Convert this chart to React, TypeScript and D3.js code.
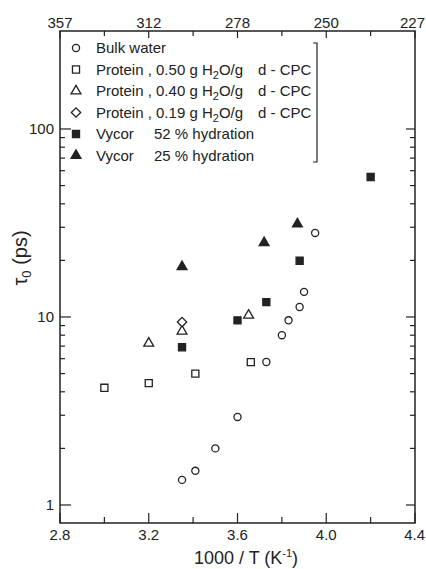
import React from "react";
import * as d3 from "d3";

// data (x = 1000/T, y = tau0 in ps)
const bulkX = [3.35, 3.41, 3.5, 3.6, 3.73, 3.8, 3.83, 3.88, 3.9, 3.95];
const bulkY = [1.36, 1.52, 2.0, 2.94, 5.76, 8.0, 9.6, 11.3, 13.6, 28];
const protein50X = [3.0, 3.2, 3.41, 3.66];
const protein50Y = [4.2, 4.45, 5.0, 5.75];
const protein40X = [3.2, 3.35, 3.65];
const protein40Y = [7.25, 8.4, 10.2];
const protein19X = [3.35];
const protein19Y = [9.4];
const vycor52X = [3.35, 3.6, 3.73, 3.88, 4.2];
const vycor52Y = [6.9, 9.6, 12.0, 19.9, 55.5];
const vycor25X = [3.35, 3.72, 3.87];
const vycor25Y = [18.5, 24.8, 31.2];

const bottomTicks = [2.8, 3.2, 3.6, 4.0, 4.4];
const bottomMinor = [3.0, 3.4, 3.8, 4.2];
const topLabels = ["357", "312", "278", "250", "227"];
const yMajor = [1, 10, 100];
const yMinor = [2, 3, 4, 5, 6, 7, 8, 9, 20, 30, 40, 50, 60, 70, 80, 90];

const W = 426;
const H = 569;
const margin = { left: 60, right: 11, top: 31, bottom: 46 };
const ink = "#222";
const font = "'Liberation Sans', Arial, sans-serif";

type Kind = "circle" | "square" | "triangle" | "diamond" | "fsquare" | "ftriangle";

const series: { kind: Kind; xs: number[]; ys: number[] }[] = [
  { kind: "circle", xs: bulkX, ys: bulkY },
  { kind: "square", xs: protein50X, ys: protein50Y },
  { kind: "triangle", xs: protein40X, ys: protein40Y },
  { kind: "diamond", xs: protein19X, ys: protein19Y },
  { kind: "fsquare", xs: vycor52X, ys: vycor52Y },
  { kind: "ftriangle", xs: vycor25X, ys: vycor25Y },
];

const symbolPath = (kind: Kind) => {
  switch (kind) {
    case "circle":
      return d3.symbol(d3.symbolCircle, 40)()!;
    case "square":
    case "fsquare":
      return d3.symbol(d3.symbolSquare, 50)()!;
    case "triangle":
    case "ftriangle":
      return d3.symbol(d3.symbolTriangle, 42)()!;
    case "diamond":
      return d3.symbol(d3.symbolSquare, 44)()!;
  }
};

const Marker = ({ kind, x, y }: { kind: Kind; x: number; y: number }) => {
  const filled = kind === "fsquare" || kind === "ftriangle";
  const rot = kind === "diamond" ? " rotate(45)" : "";
  return (
    <path
      d={symbolPath(kind)}
      transform={`translate(${x},${y})${rot}`}
      fill={filled ? ink : "white"}
      stroke={ink}
      strokeWidth={1.3}
    />
  );
};

const Sub = ({ children }: { children: string }) => (
  <tspan fontSize={11} dy={4}>
    {children}
  </tspan>
);

export default function App() {
  const x = d3.scaleLinear().domain([2.8, 4.4]).range([margin.left, W - margin.right]);
  const y = d3.scaleLog().domain([0.802, 332]).range([H - margin.bottom, margin.top]);
  const x0 = margin.left;
  const x1 = W - margin.right;
  const y0 = H - margin.bottom;
  const y1 = margin.top;

  const legendY = (i: number) => 48 + i * 21.5;
  const legendKinds: Kind[] = ["circle", "square", "triangle", "diamond", "fsquare", "ftriangle"];
  const last = bottomTicks.length - 1;

  return (
    <svg
      width={W}
      height={H}
      style={{ position: "absolute", left: 0, top: 0, background: "white" }}
      fontFamily={font}
    >
      {/* frame */}
      <rect x={x0} y={y1} width={x1 - x0} height={y0 - y1} fill="none" stroke={ink} strokeWidth={1.5} />

      {/* bottom / top ticks */}
      {bottomTicks.map((t, i) => (
        <g key={"bt" + i}>
          <line x1={x(t)} x2={x(t)} y1={y0} y2={y0 - 10} stroke={ink} strokeWidth={1.2} />
          <line x1={x(t)} x2={x(t)} y1={y1} y2={y1 + 7} stroke={ink} strokeWidth={1.2} />
          <text
            x={i === last ? W - 1 : x(t)}
            y={540}
            textAnchor={i === last ? "end" : "middle"}
            fontSize={15}
            fill={ink}
          >
            {t.toFixed(1)}
          </text>
          <text
            x={i === last ? W - 1 : x(t)}
            y={28}
            textAnchor={i === last ? "end" : "middle"}
            fontSize={15}
            fill={ink}
          >
            {topLabels[i]}
          </text>
        </g>
      ))}
      {bottomMinor.map((t, i) => (
        <g key={"bm" + i}>
          <line x1={x(t)} x2={x(t)} y1={y0} y2={y0 - 6} stroke={ink} strokeWidth={1.2} />
          <line x1={x(t)} x2={x(t)} y1={y1} y2={y1 + 5} stroke={ink} strokeWidth={1.2} />
        </g>
      ))}

      {/* y ticks */}
      {yMajor.map((t) => (
        <g key={"ym" + t}>
          <line x1={x0} x2={x0 + 11} y1={y(t)} y2={y(t)} stroke={ink} strokeWidth={1.2} />
          <line x1={x1} x2={x1 - 9} y1={y(t)} y2={y(t)} stroke={ink} strokeWidth={1.2} />
          <text x={54} y={y(t)} dy="0.35em" textAnchor="end" fontSize={15} fill={ink}>
            {t}
          </text>
        </g>
      ))}
      {yMinor.map((t) => (
        <g key={"yn" + t}>
          <line x1={x0} x2={x0 + 5} y1={y(t)} y2={y(t)} stroke={ink} strokeWidth={1.2} />
          <line x1={x1} x2={x1 - 5} y1={y(t)} y2={y(t)} stroke={ink} strokeWidth={1.2} />
        </g>
      ))}

      {/* axis titles */}
      <text x={246} y={564} textAnchor="middle" fontSize={18} fill={ink}>
        1000 / T (K
        <tspan fontSize={11} dy={-7}>
          -1
        </tspan>
        <tspan dy={7}>)</tspan>
      </text>
      <text transform="translate(27,258) rotate(-90)" textAnchor="middle" fontSize={20} fill={ink}>
        τ<tspan fontSize={13} dy={4}>0</tspan>
        <tspan dy={-4}> (ps)</tspan>
      </text>

      {/* data */}
      {series.map((s) =>
        s.xs.map((v, i) => <Marker key={s.kind + i} kind={s.kind} x={x(v)} y={y(s.ys[i])} />)
      )}

      {/* legend */}
      {legendKinds.map((k, i) => (
        <Marker key={"lg" + k} kind={k} x={76} y={legendY(i)} />
      ))}
      <g fontSize={15} fill={ink}>
        <text x={96} y={legendY(0)} dy="0.35em">Bulk water</text>
        {["0.50", "0.40", "0.19"].map((c, i) => (
          <g key={"pl" + c}>
            <text x={96} y={legendY(i + 1)} dy="0.35em">
              Protein , {c} g H<Sub>2</Sub>
              <tspan dy={-4}>O/g</tspan>
            </text>
            <text x={258} y={legendY(i + 1)} dy="0.35em">d - CPC</text>
          </g>
        ))}
        <text x={96} y={legendY(4)} dy="0.35em">Vycor</text>
        <text x={154} y={legendY(4)} dy="0.35em">52 % hydration</text>
        <text x={96} y={legendY(5)} dy="0.35em">Vycor</text>
        <text x={154} y={legendY(5)} dy="0.35em">25 % hydration</text>
      </g>
      <path d="M313,43 H317 V162 H313" fill="none" stroke={ink} strokeWidth={1.2} />
    </svg>
  );
}
